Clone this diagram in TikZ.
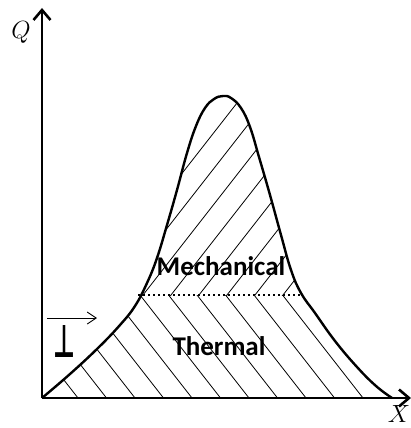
\documentclass[tikz,border=0pt]{standalone}
\usepackage{fontspec}
\usepackage{graphicx}
\newfontfamily\calib{Carlito}
\newfontfamily\dejavu{DejaVu Sans}
\usetikzlibrary{arrows.meta}

% outline of the peak, pixel coordinates (y grows downward)
\def\peakpath{plot[smooth, tension=0.7] coordinates {(42,398) (70,374) (98,348) (120,325) (135,306)
  (147,283) (157,258) (167,225) (177,190) (187,153) (196,126) (205,108) (214,99) (223,96)
  (231,98) (241,108) (250,127) (259,157) (270,195) (281,235) (291,270) (301,293) (315,313)
  (335,341) (357,367) (376,386) (392,398)}}

\begin{document}
\begin{tikzpicture}[x=1pt, y=-1pt,
        axis/.style={line width=2.6pt, -{Straight Barb[length=10pt, width=17pt]}},
        rim/.style={line width=2.4pt, line join=round},
        hatch/.style={line width=0.8pt},
        sep/.style={line width=2pt, dash pattern=on 2pt off 3pt},
        part/.style={font=\calib\bfseries\fontsize{27}{27}\selectfont, anchor=base, inner sep=0pt},
        axlabel/.style={font=\fontsize{24}{24}\selectfont, anchor=base, inner sep=0pt}
    ]
        \useasboundingbox (0,0) rectangle (411,428);

        \coordinate (O) at (42,398);
        \coordinate (Qend) at (42,8);
        \coordinate (Xend) at (411,398);
        \coordinate (dl) at (138,295);
        \coordinate (dr) at (300,295);
        \coordinate (fa) at (47,318);
        \coordinate (fb) at (97,318);

        % hatching above the dotted line
        \begin{scope}
            \clip \peakpath -- cycle;
            \clip (0,0) rectangle (411,295);
            \foreach \x in {87,115,...,283}
                \draw[hatch] (\x-10,307.8) -- ++(170,-217.6);
        \end{scope}

        % hatching below the dotted line
        \begin{scope}
            \clip \peakpath -- cycle;
            \clip (0,295) rectangle (411,428);
            \foreach \b in {78,106.5,...,364}
                \draw[hatch] (\b+8,408.24) -- ++(-100,-128);
        \end{scope}

        \draw[rim] \peakpath;
        \draw[sep] (dl) -- (dr);

        \draw[axis] (O) -- (Qend);
        \draw[axis] (O) -- (Xend);

        \node[axlabel] (qlab) at (21,39) {$Q$};
        \node[axlabel] (xlab) at (399,422) {$X$};

        \node[part] (mech) at (221,275) {Mechanical};
        \node[part] (therm) at (219,355) {Thermal};

        \draw[line width=0.9pt, -{Straight Barb[length=9pt, width=12pt]}] (fa) -- (fb);
        \node[inner sep=0pt] (perp) at (64,341) {\resizebox{22pt}{32pt}{\dejavu\bfseries ⊥}};
    \end{tikzpicture}
\end{document}
